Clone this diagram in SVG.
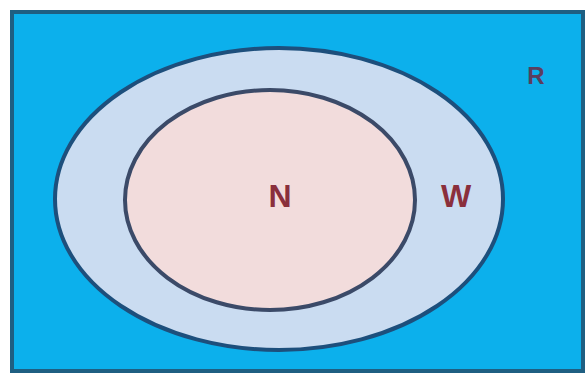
<svg xmlns="http://www.w3.org/2000/svg" width="587" height="376" viewBox="0 0 587 376">
<style>
.lbl{font-family:"Liberation Sans",Arial,sans-serif;font-weight:bold;fill:#8a2f3c;text-anchor:middle}
</style>
<rect x="0" y="0" width="587" height="376" fill="#ffffff"/>
<g id="R">
<rect x="12" y="12" width="571" height="359" fill="#0cb0ec" stroke="#1f5f82" stroke-width="4"/>
<text class="lbl" x="536" y="84" font-size="24" style="fill:#5a3f5e">R</text>
</g>
<g id="W">
<ellipse cx="279" cy="199" rx="224" ry="151" fill="#cadcf1" stroke="#1d4f7c" stroke-width="4"/>
<text class="lbl" x="456" y="207" font-size="32">W</text>
</g>
<g id="N">
<ellipse cx="270" cy="200" rx="145" ry="110" fill="#f2dcdc" stroke="#3b4a68" stroke-width="4"/>
<text class="lbl" x="280" y="207" font-size="32">N</text>
</g>
<g id="connectors"></g>
</svg>
